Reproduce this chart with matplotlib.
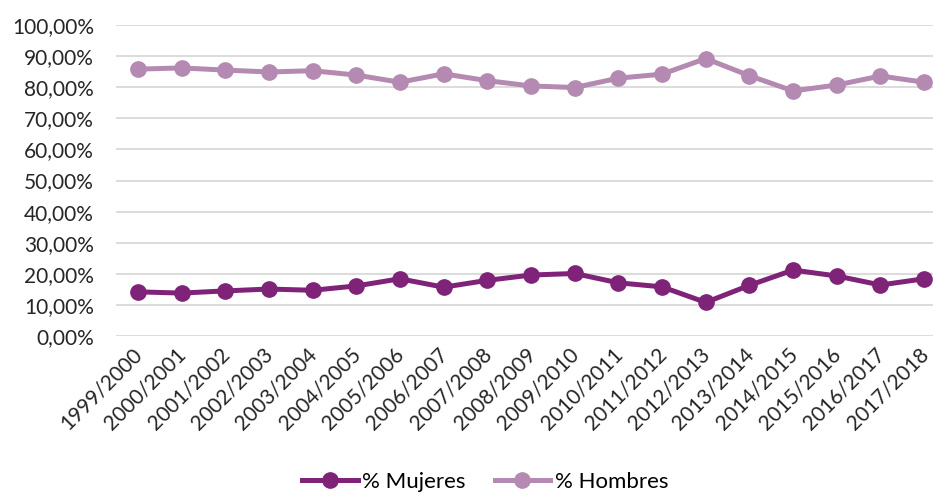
import numpy as np
import matplotlib.pyplot as plt
import matplotlib.transforms as mtrans
from matplotlib.ticker import FuncFormatter

plt.rcParams['font.family'] = ['Lato', 'DejaVu Sans']

# datos
cursos = ['1999/2000', '2000/2001', '2001/2002', '2002/2003', '2003/2004',
          '2004/2005', '2005/2006', '2006/2007', '2007/2008', '2008/2009',
          '2009/2010', '2010/2011', '2011/2012', '2012/2013', '2013/2014',
          '2014/2015', '2015/2016', '2016/2017', '2017/2018']
mujeres = [14.2, 13.8, 14.5, 15.1, 14.7, 16.1, 18.4, 15.7, 17.9, 19.6,
           20.1, 17.1, 15.8, 10.8, 16.3, 21.2, 19.3, 16.4, 18.4]
hombres = [85.8, 86.2, 85.5, 84.9, 85.3, 83.9, 81.6, 84.3, 82.1, 80.4,
           79.9, 82.9, 84.2, 89.2, 83.7, 78.8, 80.7, 83.6, 81.6]

col_m = '#7E2378'
col_h = '#B48AB2'

fig = plt.figure(figsize=(9.33, 4.97), dpi=100)
ax = fig.add_axes([116 / 933, 1 - 336 / 497, 830 / 933, 311 / 497])

x = np.arange(len(cursos))
ax.plot(x, mujeres, color=col_m, lw=3.6, marker='o', ms=11, label='% Mujeres')
ax.plot(x, hombres, color=col_h, lw=3.6, marker='o', ms=11, label='% Hombres')

ax.set_xlim(-0.5, len(cursos) - 0.5)
ax.set_ylim(0, 100)
ax.set_yticks(np.arange(0, 101, 10))
ax.yaxis.set_major_formatter(FuncFormatter(lambda v, p: f'{v:.2f}%'.replace('.', ',')))
ax.grid(axis='y', color='#D9D9D9', lw=1.3)
ax.set_axisbelow(True)
for s in ax.spines.values():
    s.set_visible(False)
ax.tick_params(length=0, labelsize=15, colors='#262626')
ax.tick_params(axis='y', pad=16)
ax.tick_params(axis='x', pad=4)
ax.set_xticks(x)
ax.set_xticklabels(cursos, rotation=45, ha='right', rotation_mode='anchor')

# desplazar un poco las etiquetas del eje x hacia la izquierda
off = mtrans.ScaledTranslation(-6 / 100, -3 / 100, fig.dpi_scale_trans)
for lbl in ax.get_xticklabels():
    lbl.set_transform(lbl.get_transform() + off)

fig.legend(loc='lower center', bbox_to_anchor=(0.52, -0.03), ncol=2, frameon=False,
           fontsize=16, handlelength=2.5, columnspacing=1.3, handletextpad=0.2)

fig.savefig('out.png', dpi=100)
